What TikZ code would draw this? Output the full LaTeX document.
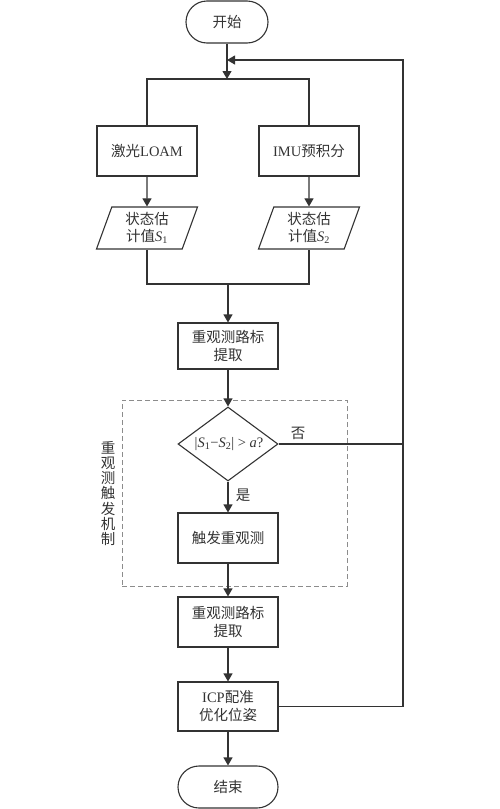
\documentclass[tikz,border=0pt]{standalone}
\usepackage{fontspec}
\setmainfont{Liberation Serif}
\newfontfamily\cjk{Noto Sans CJK SC}
\usetikzlibrary{shapes.geometric,shapes.misc,arrows.meta}
\definecolor{ln}{HTML}{333333}
\definecolor{dsh}{HTML}{8C8C8C}
\newcommand\lat[1]{{\rmfamily #1}}
\begin{document}
\begin{tikzpicture}[x=1pt,y=-1pt,
  every node/.style={font=\cjk\fontsize{14.5}{18}\selectfont, text=ln},
  line/.style={draw=ln, line width=1.1pt},
  arr/.style={line, -{Triangle[width=9pt,length=8pt]}},
  box/.style={line, rectangle, minimum width=100pt, minimum height=50pt, align=center, inner sep=0pt},
  term/.style={line, rounded rectangle, minimum height=42pt, inner sep=0pt},
  para/.style={line, trapezium, trapezium left angle=64, trapezium right angle=116,
    trapezium stretches body, minimum width=101pt, minimum height=42pt, inner sep=0pt,
    align=center, font=\cjk\fontsize{14.5}{17}\selectfont},
  dia/.style={line, diamond, minimum width=100pt, minimum height=74pt, inner sep=0pt, aspect=1.35},
  lbl/.style={inner sep=0pt}
]
\useasboundingbox (0,0) rectangle (500,809);
% group frame
\node[draw=dsh, line width=1pt, dash pattern=on 5pt off 3pt, minimum width=225pt, minimum height=186pt, inner sep=0pt] (grp) at (234.5,493) {};
\node[lbl, align=center, font=\cjk\fontsize{14.5}{15.3}\selectfont] (glbl) at (108,493.5) {重\\观\\测\\触\\发\\机\\制};

% nodes
\node[term, minimum width=82pt] (start) at (227,22) {开始};
\coordinate (j) at (227,79);
\coordinate (fb) at (227,60);
\node[box] (las) at (147,151) {激光\lat{LOAM}};
\node[box] (imu) at (309,151) {\lat{IMU}预积分};
\node[para] (p1) at (147,228) {状态估\\计值\lat{\textit{S}\textsubscript{1}}};
\node[para] (p2) at (309,228) {状态估\\计值\lat{\textit{S}\textsubscript{2}}};
\coordinate (m) at (228,284);
\node[box, minimum height=46pt] (ext1) at (228,346) {重观测路标\\提取};
\node[dia] (d) at (228,444) {};
\node[lbl] (dtxt) at (229,444) {\lat{\textbar\textit{S}\textsubscript{1}−\textit{S}\textsubscript{2}\textbar{} \textgreater{} \textit{a}?}};
\node[lbl] (no) at (298,433) {否};
\node[lbl] (yes) at (243,495) {是};
\node[box] (trig) at (228,538) {触发重观测};
\node[box] (ext2) at (228,622) {重观测路标\\提取};
\node[box, minimum height=49pt] (icp) at (228,706.5) {\lat{ICP}配准\\优化位姿};
\node[term, minimum width=100pt] (end) at (228,787) {结束};

% connectors
\draw[arr] (start.south) -- (j);
\draw[line] (las.north) -- (las.north |- j) -- (imu.north |- j) -- (imu.north);
\draw[arr] (las.south) -- (p1.north);
\draw[arr] (imu.south) -- (p2.north);
\draw[line] (p1.south) -- (p1.south |- m) -- (p2.south |- m) -- (p2.south);
\draw[arr] (m) -- (ext1.north);
\draw[arr] (ext1.south) -- (d.north);
\draw[arr] (d.south) -- (trig.north);
\draw[arr] (trig.south) -- (ext2.north);
\draw[arr] (ext2.south) -- (icp.north);
\draw[arr] (icp.south) -- (end.north);
\draw[line] (d.east) -- (403,444);
\draw[arr] (icp.east) -- (403,706.5) -- (403,60) -- (fb);
\end{tikzpicture}
\end{document}
